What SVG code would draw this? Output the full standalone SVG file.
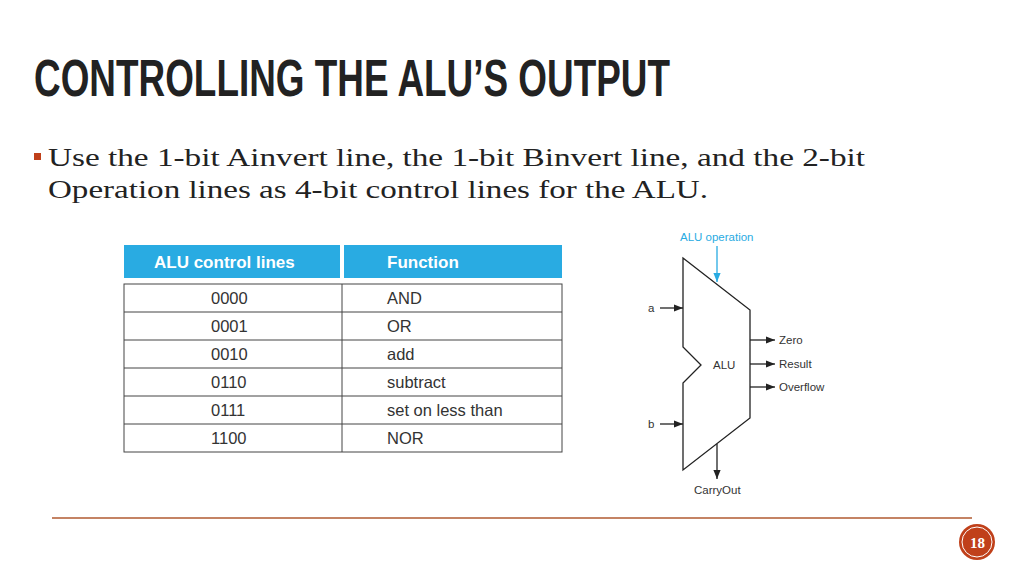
<svg xmlns="http://www.w3.org/2000/svg" width="1024" height="576" viewBox="0 0 1024 576">
<defs>
<marker id="ar" viewBox="0 0 10 10" refX="10" refY="5" markerWidth="7" markerHeight="7" orient="auto"><path d="M0,1 L10,5 L0,9 z" fill="#222"/></marker>
<marker id="arb" viewBox="0 0 10 10" refX="10" refY="5" markerWidth="7" markerHeight="7" orient="auto"><path d="M0,1 L10,5 L0,9 z" fill="#29abe2"/></marker>
</defs>
<style>
.t{font-family:"Liberation Serif",serif;font-size:25px;fill:#222}
.h{font-family:"Liberation Sans",sans-serif;font-size:17px;font-weight:bold;fill:#fff}
.c{font-family:"Liberation Sans",sans-serif;font-size:16.5px;fill:#333}
.s{font-family:"Liberation Sans",sans-serif;font-size:11.5px;fill:#333}
.ln{stroke:#222;stroke-width:1.3;fill:none}
</style>
<rect width="1024" height="576" fill="#fff"/>
<text x="34" y="96" font-family="Liberation Sans Narrow,Liberation Sans,sans-serif" font-size="52" font-weight="bold" fill="#222" textLength="636" lengthAdjust="spacingAndGlyphs">CONTROLLING THE ALU’S OUTPUT</text>
<rect x="34" y="153" width="7" height="7" fill="#c0401a"/>
<text class="t" x="48" y="166" textLength="817" lengthAdjust="spacingAndGlyphs">Use the 1-bit Ainvert line, the 1-bit Binvert line, and the 2-bit</text>
<text class="t" x="48" y="198" textLength="660" lengthAdjust="spacingAndGlyphs">Operation lines as 4-bit control lines for the ALU.</text>
<g id="table">
<rect x="124" y="245" width="216" height="33" fill="#29abe2"/>
<rect x="344" y="245" width="218" height="33" fill="#29abe2"/>
<text class="h" x="154" y="268">ALU control lines</text>
<text class="h" x="387" y="268">Function</text>
<rect x="124" y="284" width="438" height="168" fill="none" stroke="#444"/>
<g stroke="#444"><line x1="342" y1="284" x2="342" y2="452"/><line x1="124" y1="312" x2="562" y2="312"/><line x1="124" y1="340" x2="562" y2="340"/><line x1="124" y1="368" x2="562" y2="368"/><line x1="124" y1="396" x2="562" y2="396"/><line x1="124" y1="424" x2="562" y2="424"/></g>
<g class="c"><text x="211" y="304">0000</text><text x="211" y="332">0001</text><text x="211" y="360">0010</text><text x="211" y="388">0110</text><text x="211" y="416">0111</text><text x="211" y="444">1100</text>
<text x="387" y="304">AND</text><text x="387" y="332">OR</text><text x="387" y="360">add</text><text x="387" y="388">subtract</text><text x="387" y="416">set on less than</text><text x="387" y="444">NOR</text></g>
</g>
<g id="alu">
<path class="ln" d="M683,258 L750,310 L750,418 L683,470 L683,383 L701,365 L683,347 Z" stroke-width="1.6"/>
<text class="s" x="713" y="369">ALU</text>
</g>
<g id="connectors">
<line x1="717" y1="246" x2="717" y2="282" stroke="#29abe2" stroke-width="1.3" marker-end="url(#arb)"/>
<line class="ln" x1="660" y1="308" x2="683" y2="308" marker-end="url(#ar)"/>
<line class="ln" x1="660" y1="424" x2="683" y2="424" marker-end="url(#ar)"/>
<line class="ln" x1="750" y1="340" x2="775" y2="340" marker-end="url(#ar)"/>
<line class="ln" x1="750" y1="364" x2="775" y2="364" marker-end="url(#ar)"/>
<line class="ln" x1="750" y1="387" x2="775" y2="387" marker-end="url(#ar)"/>
<line class="ln" x1="717" y1="444" x2="717" y2="479" marker-end="url(#ar)"/>
</g>
<g class="s">
<text x="680" y="241" style="fill:#29abe2">ALU operation</text>
<text x="648" y="312">a</text><text x="648" y="428">b</text>
<text x="779" y="344">Zero</text><text x="779" y="368">Result</text><text x="779" y="391">Overflow</text>
<text x="694" y="494">CarryOut</text>
</g>
<line x1="52" y1="518" x2="972" y2="518" stroke="#b05a30" stroke-width="1.5"/>
<circle cx="977" cy="542" r="18" fill="#c0401a"/>
<circle cx="977" cy="542" r="15" fill="none" stroke="#fff" stroke-width="1"/>
<text x="970" y="548" font-family="Liberation Serif,serif" font-size="15" font-weight="bold" fill="#fff">18</text>
</svg>
